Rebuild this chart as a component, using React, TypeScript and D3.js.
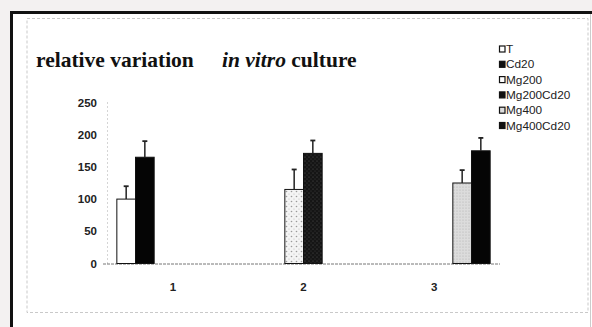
import React, { useEffect, useRef } from "react";
import * as d3 from "d3";

const categories = ["1", "2", "3"];
const seriesNames = ["T", "Cd20", "Mg200", "Mg200Cd20", "Mg400", "Mg400Cd20"];
// one mean per category, 0 = not measured
const tValues = [100, 0, 0];
const cd20Values = [165, 0, 0];
const mg200Values = [0, 115, 0];
const mg200Cd20Values = [0, 171, 0];
const mg400Values = [0, 0, 125];
const mg400Cd20Values = [0, 0, 175];
const errValues = [20, 25, 31, 20, 20, 20];
const yTicks = [0, 50, 100, 150, 200, 250];

const allValues = [tValues, cd20Values, mg200Values, mg200Cd20Values, mg400Values, mg400Cd20Values];
const fills = ["#fff", "#050505", "url(#dots)", "url(#speckle)", "url(#fine)", "#050505"];

const W = 592;
const H = 327;

const App = () => {
  const chartRef = useRef(null);

  useEffect(() => {
    drawChart();
  }, []);

  const drawChart = () => {
    const svg = d3.select(chartRef.current);
    svg.selectAll("*").remove();

    // patterns
    const defs = svg.append("defs");
    const dots = defs.append("pattern").attr("id", "dots").attr("patternUnits", "userSpaceOnUse").attr("width", 5).attr("height", 5);
    dots.append("rect").attr("width", 5).attr("height", 5).attr("fill", "#f4f4f4");
    dots.append("circle").attr("cx", 1.5).attr("cy", 1.5).attr("r", 0.8).attr("fill", "#9a9a9a");
    dots.append("circle").attr("cx", 4).attr("cy", 4).attr("r", 0.6).attr("fill", "#bdbdbd");
    const speckle = defs.append("pattern").attr("id", "speckle").attr("patternUnits", "userSpaceOnUse").attr("width", 4).attr("height", 4);
    speckle.append("rect").attr("width", 4).attr("height", 4).attr("fill", "#151515");
    speckle.append("circle").attr("cx", 1).attr("cy", 1).attr("r", 0.6).attr("fill", "#555");
    speckle.append("circle").attr("cx", 3).attr("cy", 3).attr("r", 0.5).attr("fill", "#444");
    const fine = defs.append("pattern").attr("id", "fine").attr("patternUnits", "userSpaceOnUse").attr("width", 3).attr("height", 3);
    fine.append("rect").attr("width", 3).attr("height", 3).attr("fill", "#dcdcdc");
    fine.append("circle").attr("cx", 1).attr("cy", 1).attr("r", 0.5).attr("fill", "#a8a8a8");

    // page + frame
    svg.append("rect").attr("width", W).attr("height", H).attr("fill", "#f3f1f1");
    svg.append("rect").attr("x", 12).attr("y", 13).attr("width", W - 12).attr("height", H - 13).attr("fill", "#fff");
    svg.append("line").attr("x1", 10).attr("x2", W).attr("y1", 12.5).attr("y2", 12.5).attr("stroke", "#111").attr("stroke-width", 3);
    svg.append("line").attr("x1", 11.5).attr("x2", 11.5).attr("y1", 11).attr("y2", H).attr("stroke", "#111").attr("stroke-width", 3);
    svg.append("line").attr("x1", 590.5).attr("x2", 590.5).attr("y1", 14).attr("y2", H).attr("stroke", "#ccc").attr("stroke-width", 1);
    svg.append("rect").attr("x", 27).attr("y", 18.5).attr("width", 561).attr("height", 294)
      .attr("fill", "none").attr("stroke", "#bbb").attr("stroke-dasharray", "3,2").attr("stroke-width", 0.8);

    const x0 = d3.scaleBand().domain(categories).range([107.5, 499.5]).paddingInner(0.143).paddingOuter(0.0715);
    const x1 = d3.scaleBand().domain(seriesNames).range([0, x0.bandwidth()]);
    const y = d3.scaleLinear().domain([0, 250]).range([263.5, 102.5]);

    // title
    const title = svg.append("text").attr("x", 36).attr("y", 67)
      .style("font-family", "'Liberation Serif', 'Times New Roman', serif").style("font-size", "21.5px")
      .style("font-weight", "bold").attr("fill", "#111");
    title.append("tspan").text("relative variation");
    title.append("tspan").attr("x", 222).style("font-style", "italic").text("in vitro");
    title.append("tspan").text(" culture");

    // y axis
    svg.append("line").attr("x1", 107.5).attr("x2", 107.5).attr("y1", y(250)).attr("y2", y(0))
      .attr("stroke", "#aaa").attr("stroke-dasharray", "1,3");
    svg.append("g").selectAll("text").data(yTicks).join("text")
      .attr("x", 97).attr("y", (d) => y(d)).attr("dy", "0.35em").attr("text-anchor", "end")
      .style("font-family", "'Liberation Sans', Arial, sans-serif").style("font-size", "11.5px")
      .style("font-weight", "bold").attr("fill", "#222").text((d) => d);

    // x axis
    svg.append("line").attr("x1", 103).attr("x2", 500).attr("y1", y(0) + 0.5).attr("y2", y(0) + 0.5)
      .attr("stroke", "#777").attr("stroke-dasharray", "3,1");
    svg.append("g").selectAll("text").data(categories).join("text")
      .attr("x", (d) => x0(d) + x0.bandwidth() / 2).attr("y", 287).attr("dy", "0.35em").attr("text-anchor", "middle")
      .style("font-family", "'Liberation Sans', Arial, sans-serif").style("font-size", "11.5px")
      .style("font-weight", "bold").attr("fill", "#222").text((d) => d);

    // bars + error bars
    seriesNames.forEach((s, si) => {
      allValues[si].forEach((v, ci) => {
        if (!v) return;
        const bx = x0(categories[ci]) + x1(s);
        const bw = x1.bandwidth();
        svg.append("rect").attr("x", bx).attr("y", y(v)).attr("width", bw).attr("height", y(0) - y(v))
          .attr("fill", fills[si]).attr("stroke", "#111").attr("stroke-width", 1);
        const cx = bx + bw / 2;
        svg.append("line").attr("x1", cx).attr("x2", cx).attr("y1", y(v)).attr("y2", y(v + errValues[si]))
          .attr("stroke", "#222").attr("stroke-width", 1.5);
        svg.append("line").attr("x1", cx - 2.5).attr("x2", cx + 2.5).attr("y1", y(v + errValues[si])).attr("y2", y(v + errValues[si]))
          .attr("stroke", "#222").attr("stroke-width", 1.8);
      });
    });

    // legend
    const legend = svg.append("g").attr("transform", "translate(499,49)");
    const items = legend.selectAll("g").data(seriesNames).join("g")
      .attr("transform", (d, i) => `translate(0,${i * 15.3})`);
    items.append("rect").attr("x", 0.5).attr("y", -3).attr("width", 5.5).attr("height", 6)
      .attr("fill", (d, i) => (i % 2 === 1 ? "#111" : i === 4 ? "#ddd" : "#fff")).attr("stroke", "#111").attr("stroke-width", 1.2);
    items.append("text").attr("x", 7).attr("y", 0).attr("dy", "0.35em")
      .style("font-family", "'Liberation Sans', Arial, sans-serif").style("font-size", "11.8px")
      .attr("fill", "#222").text((d) => d);
  };

  return (
    <div style={{ position: "fixed", left: 0, top: 0 }}>
      <svg ref={chartRef} width={W} height={H}></svg>
    </div>
  );
};

export default App;
